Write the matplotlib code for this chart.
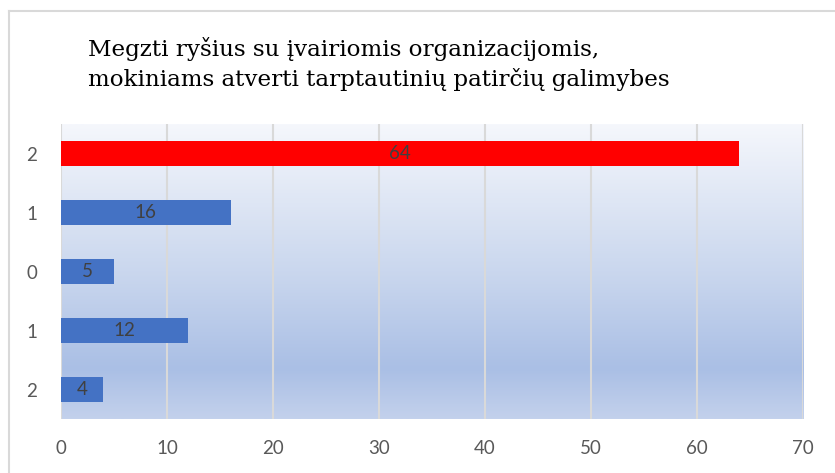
import matplotlib.pyplot as plt
import numpy as np
from matplotlib.colors import LinearSegmentedColormap
from matplotlib.lines import Line2D

labels = ['2', '1', '0', '1', '2']
values = [64, 16, 5, 12, 4]
bar_colors = ['#ff0000', '#4472c4', '#4472c4', '#4472c4', '#4472c4']
title = 'Megzti ryšius su įvairiomis organizacijomis,\nmokiniams atverti tarptautinių patirčių galimybes'

fig = plt.figure(figsize=(8.35, 4.73), dpi=100)
ax = fig.add_axes([61 / 835, 1 - 419 / 473, 742 / 835, 295 / 473])

# frame around the chart
fig.add_artist(Line2D([9 / 835, 9 / 835], [0, 1 - 11 / 473], color='#d9d9d9', lw=1.5))
fig.add_artist(Line2D([9 / 835, 1], [1 - 11 / 473, 1 - 11 / 473], color='#d9d9d9', lw=1.5))

# gradient background
cmap = LinearSegmentedColormap.from_list('bg', [(0, '#f5f7fc'), (0.5, '#cad7ee'),
                                                (0.83, '#aabfe5'), (1, '#c3d1ec')])
grad = np.linspace(0, 1, 256).reshape(-1, 1)
ax.imshow(grad, cmap=cmap, aspect='auto', extent=[0, 70, 4.5, -0.5], zorder=0)

y = np.arange(len(values))
ax.barh(y, values, height=0.41, color=bar_colors, zorder=3)
for i, v in enumerate(values):
    ax.text(v / 2, i, str(v), ha='center', va='center', fontsize=13.5,
            color='#404040', family='Lato', zorder=4)

ax.set_xlim(0, 70)
ax.set_ylim(4.5, -0.5)
ax.set_xticks(range(0, 71, 10))
ax.set_yticks(y)
ax.set_yticklabels(labels)
ax.grid(axis='x', color='#d9d9d9', lw=1.5, zorder=1)
for s in ax.spines.values():
    s.set_visible(False)
ax.tick_params(length=0, labelsize=13.5, labelcolor='#595959', pad=15)
ax.tick_params(axis='y', pad=17)
for lab in ax.get_xticklabels() + ax.get_yticklabels():
    lab.set_family('Lato')

fig.text(88 / 835, 1 - 37 / 473, title, ha='left', va='top', fontsize=16.6,
         family='DejaVu Serif', color='#000000', linespacing=1.38)

fig.savefig('out.png', dpi=100)
